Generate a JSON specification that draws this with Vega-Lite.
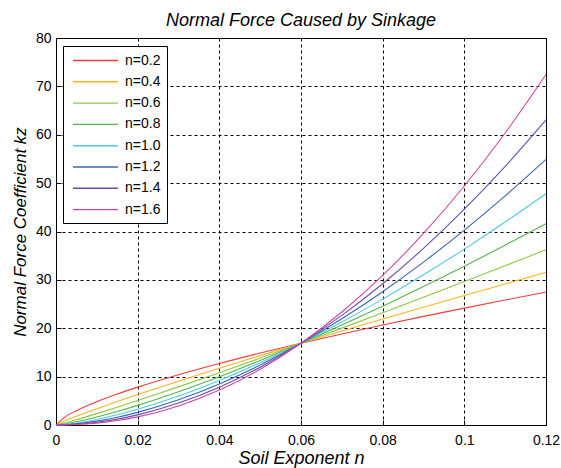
{
  "$schema": "https://vega.github.io/schema/vega-lite/v6.json",
  "autosize": "none",
  "width": 490,
  "height": 387,
  "padding": {"left": 56, "top": 38, "right": 15, "bottom": 43},
  "background": "white",
  "title": {"text": "Normal Force Caused by Sinkage", "font": "Liberation Sans", "fontSize": 18, "fontStyle": "italic", "fontWeight": "normal", "color": "black", "offset": 1},
  "config": {
    "view": {"stroke": "black", "strokeWidth": 1},
    "axis": {"labelFont": "Liberation Sans", "labelFontSize": 14, "labelColor": "black", "titleFont": "Liberation Sans", "titleFontStyle": "italic", "titleFontWeight": "normal", "titleColor": "black", "domainColor": "black", "tickColor": "black", "gridColor": "black", "gridOpacity": 1, "gridDash": [3, 3], "gridWidth": 1}
  },
  "data": {"values": [
    {"x": 0, "s": "n=0.2", "kz": 0}, {"x": 0.0025, "s": "n=0.2", "kz": 1.827}, {"x": 0.005, "s": "n=0.2", "kz": 2.968}, {"x": 0.01, "s": "n=0.2", "kz": 4.821}, {"x": 0.015, "s": "n=0.2", "kz": 6.404}, {"x": 0.02, "s": "n=0.2", "kz": 7.832}, {"x": 0.03, "s": "n=0.2", "kz": 10.403}, {"x": 0.04, "s": "n=0.2", "kz": 12.724}, {"x": 0.05, "s": "n=0.2", "kz": 14.875}, {"x": 0.06, "s": "n=0.2", "kz": 16.9}, {"x": 0.07, "s": "n=0.2", "kz": 18.826}, {"x": 0.08, "s": "n=0.2", "kz": 20.670}, {"x": 0.09, "s": "n=0.2", "kz": 22.447}, {"x": 0.1, "s": "n=0.2", "kz": 24.165}, {"x": 0.11, "s": "n=0.2", "kz": 25.832}, {"x": 0.12, "s": "n=0.2", "kz": 27.454},
    {"x": 0, "s": "n=0.4", "kz": 0}, {"x": 0.0025, "s": "n=0.4", "kz": 0.968}, {"x": 0.005, "s": "n=0.4", "kz": 1.805}, {"x": 0.01, "s": "n=0.4", "kz": 3.369}, {"x": 0.015, "s": "n=0.4", "kz": 4.853}, {"x": 0.02, "s": "n=0.4", "kz": 6.287}, {"x": 0.03, "s": "n=0.4", "kz": 9.057}, {"x": 0.04, "s": "n=0.4", "kz": 11.733}, {"x": 0.05, "s": "n=0.4", "kz": 14.343}, {"x": 0.06, "s": "n=0.4", "kz": 16.9}, {"x": 0.07, "s": "n=0.4", "kz": 19.415}, {"x": 0.08, "s": "n=0.4", "kz": 21.894}, {"x": 0.09, "s": "n=0.4", "kz": 24.342}, {"x": 0.1, "s": "n=0.4", "kz": 26.764}, {"x": 0.11, "s": "n=0.4", "kz": 29.161}, {"x": 0.12, "s": "n=0.4", "kz": 31.537},
    {"x": 0, "s": "n=0.6", "kz": 0}, {"x": 0.0025, "s": "n=0.6", "kz": 0.513}, {"x": 0.005, "s": "n=0.6", "kz": 1.099}, {"x": 0.01, "s": "n=0.6", "kz": 2.355}, {"x": 0.015, "s": "n=0.6", "kz": 3.678}, {"x": 0.02, "s": "n=0.6", "kz": 5.047}, {"x": 0.03, "s": "n=0.6", "kz": 7.884}, {"x": 0.04, "s": "n=0.6", "kz": 10.819}, {"x": 0.05, "s": "n=0.6", "kz": 13.829}, {"x": 0.06, "s": "n=0.6", "kz": 16.9}, {"x": 0.07, "s": "n=0.6", "kz": 20.023}, {"x": 0.08, "s": "n=0.6", "kz": 23.191}, {"x": 0.09, "s": "n=0.6", "kz": 26.399}, {"x": 0.1, "s": "n=0.6", "kz": 29.643}, {"x": 0.11, "s": "n=0.6", "kz": 32.919}, {"x": 0.12, "s": "n=0.6", "kz": 36.226},
    {"x": 0, "s": "n=0.8", "kz": 0}, {"x": 0.0025, "s": "n=0.8", "kz": 0.271}, {"x": 0.005, "s": "n=0.8", "kz": 0.668}, {"x": 0.01, "s": "n=0.8", "kz": 1.646}, {"x": 0.015, "s": "n=0.8", "kz": 2.787}, {"x": 0.02, "s": "n=0.8", "kz": 4.052}, {"x": 0.03, "s": "n=0.8", "kz": 6.864}, {"x": 0.04, "s": "n=0.8", "kz": 9.976}, {"x": 0.05, "s": "n=0.8", "kz": 13.334}, {"x": 0.06, "s": "n=0.8", "kz": 16.9}, {"x": 0.07, "s": "n=0.8", "kz": 20.650}, {"x": 0.08, "s": "n=0.8", "kz": 24.564}, {"x": 0.09, "s": "n=0.8", "kz": 28.629}, {"x": 0.1, "s": "n=0.8", "kz": 32.831}, {"x": 0.11, "s": "n=0.8", "kz": 37.162}, {"x": 0.12, "s": "n=0.8", "kz": 41.613},
    {"x": 0, "s": "n=1.0", "kz": 0}, {"x": 0.0025, "s": "n=1.0", "kz": 0.144}, {"x": 0.005, "s": "n=1.0", "kz": 0.407}, {"x": 0.01, "s": "n=1.0", "kz": 1.150}, {"x": 0.015, "s": "n=1.0", "kz": 2.113}, {"x": 0.02, "s": "n=1.0", "kz": 3.252}, {"x": 0.03, "s": "n=1.0", "kz": 5.975}, {"x": 0.04, "s": "n=1.0", "kz": 9.199}, {"x": 0.05, "s": "n=1.0", "kz": 12.856}, {"x": 0.06, "s": "n=1.0", "kz": 16.9}, {"x": 0.07, "s": "n=1.0", "kz": 21.297}, {"x": 0.08, "s": "n=1.0", "kz": 26.019}, {"x": 0.09, "s": "n=1.0", "kz": 31.047}, {"x": 0.1, "s": "n=1.0", "kz": 36.363}, {"x": 0.11, "s": "n=1.0", "kz": 41.952}, {"x": 0.12, "s": "n=1.0", "kz": 47.800},
    {"x": 0, "s": "n=1.2", "kz": 0}, {"x": 0.0025, "s": "n=1.2", "kz": 0.076}, {"x": 0.005, "s": "n=1.2", "kz": 0.247}, {"x": 0.01, "s": "n=1.2", "kz": 0.804}, {"x": 0.015, "s": "n=1.2", "kz": 1.601}, {"x": 0.02, "s": "n=1.2", "kz": 2.611}, {"x": 0.03, "s": "n=1.2", "kz": 5.202}, {"x": 0.04, "s": "n=1.2", "kz": 8.483}, {"x": 0.05, "s": "n=1.2", "kz": 12.396}, {"x": 0.06, "s": "n=1.2", "kz": 16.9}, {"x": 0.07, "s": "n=1.2", "kz": 21.963}, {"x": 0.08, "s": "n=1.2", "kz": 27.560}, {"x": 0.09, "s": "n=1.2", "kz": 33.669}, {"x": 0.1, "s": "n=1.2", "kz": 40.275}, {"x": 0.11, "s": "n=1.2", "kz": 47.359}, {"x": 0.12, "s": "n=1.2", "kz": 54.908},
    {"x": 0, "s": "n=1.4", "kz": 0}, {"x": 0.0025, "s": "n=1.4", "kz": 0.040}, {"x": 0.005, "s": "n=1.4", "kz": 0.150}, {"x": 0.01, "s": "n=1.4", "kz": 0.561}, {"x": 0.015, "s": "n=1.4", "kz": 1.213}, {"x": 0.02, "s": "n=1.4", "kz": 2.096}, {"x": 0.03, "s": "n=1.4", "kz": 4.528}, {"x": 0.04, "s": "n=1.4", "kz": 7.822}, {"x": 0.05, "s": "n=1.4", "kz": 11.952}, {"x": 0.06, "s": "n=1.4", "kz": 16.9}, {"x": 0.07, "s": "n=1.4", "kz": 22.651}, {"x": 0.08, "s": "n=1.4", "kz": 29.193}, {"x": 0.09, "s": "n=1.4", "kz": 36.513}, {"x": 0.1, "s": "n=1.4", "kz": 44.608}, {"x": 0.11, "s": "n=1.4", "kz": 53.462}, {"x": 0.12, "s": "n=1.4", "kz": 63.073},
    {"x": 0, "s": "n=1.6", "kz": 0}, {"x": 0.0025, "s": "n=1.6", "kz": 0.021}, {"x": 0.005, "s": "n=1.6", "kz": 0.091}, {"x": 0.01, "s": "n=1.6", "kz": 0.392}, {"x": 0.015, "s": "n=1.6", "kz": 0.920}, {"x": 0.02, "s": "n=1.6", "kz": 1.682}, {"x": 0.03, "s": "n=1.6", "kz": 3.942}, {"x": 0.04, "s": "n=1.6", "kz": 7.213}, {"x": 0.05, "s": "n=1.6", "kz": 11.525}, {"x": 0.06, "s": "n=1.6", "kz": 16.9}, {"x": 0.07, "s": "n=1.6", "kz": 23.360}, {"x": 0.08, "s": "n=1.6", "kz": 30.922}, {"x": 0.09, "s": "n=1.6", "kz": 39.599}, {"x": 0.1, "s": "n=1.6", "kz": 49.404}, {"x": 0.11, "s": "n=1.6", "kz": 60.352}, {"x": 0.12, "s": "n=1.6", "kz": 72.452}
  ]},
  "mark": {"type": "line", "strokeWidth": 1.1, "interpolate": "monotone"},
  "encoding": {
    "x": {"field": "x", "type": "quantitative", "scale": {"domain": [0, 0.12], "nice": false, "zero": true}, "axis": {"title": "Soil Exponent n", "titleFontSize": 18, "values": [0, 0.02, 0.04, 0.06, 0.08, 0.1, 0.12], "format": ".2~f", "grid": true, "tickSize": -5, "labelPadding": 13, "labelOverlap": false, "labelFlush": false, "labelBound": false, "titlePadding": 2}},
    "y": {"field": "kz", "type": "quantitative", "scale": {"domain": [0, 80], "nice": false}, "axis": {"title": "Normal Force Coefficient kz", "titleFontSize": 17, "values": [0, 10, 20, 30, 40, 50, 60, 70, 80], "grid": true, "tickSize": -5, "labelPadding": 10, "labelOverlap": false, "titlePadding": 6}},
    "color": {"field": "s", "type": "nominal", "scale": {"domain": ["n=0.2", "n=0.4", "n=0.6", "n=0.8", "n=1.0", "n=1.2", "n=1.4", "n=1.6"], "range": ["#f03c3c", "#ffb41e", "#8cc846", "#50b848", "#50c8e6", "#3c64b4", "#6a4cb0", "#d4449c"]},
      "legend": {"title": null, "orient": "none", "legendX": 7, "legendY": 8, "symbolType": "M-0.6,0H5.4", "symbolSize": 225, "symbolStrokeWidth": 1.4, "labelFont": "Liberation Sans", "labelFontSize": 14, "labelColor": "black", "labelOffset": 39, "strokeColor": "black", "fillColor": "white", "padding": 6, "rowPadding": 5.3}}
  }
}
